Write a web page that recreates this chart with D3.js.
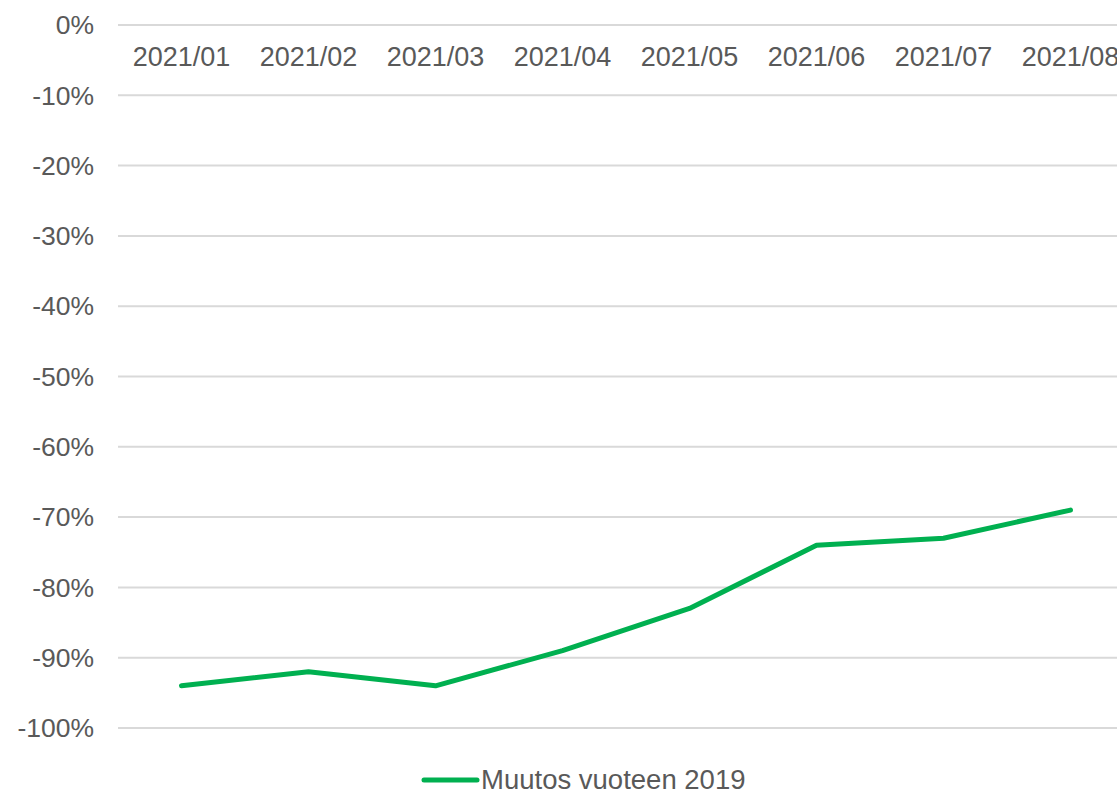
<!DOCTYPE html>
<html>
<head>
<meta charset="utf-8">
<script src="https://cdn.jsdelivr.net/npm/d3@7"></script>
<style>
  body { margin: 0; background: #fff; overflow: hidden; }
  text { font-family: "Liberation Sans", Arial, sans-serif; fill: #595959; }
</style>
</head>
<body>
<div id="chart"></div>
<script>
const months = ["2021/01", "2021/02", "2021/03", "2021/04", "2021/05", "2021/06", "2021/07", "2021/08"];
const change = [-94, -92, -94, -89, -83, -74, -73, -69];
const yTicks = [0, -10, -20, -30, -40, -50, -60, -70, -80, -90, -100];
const seriesName = "Muutos vuoteen 2019";

const width = 1117,
  height = 792;
const plotLeft = 118,
  plotRight = 1134,
  plotTop = 25,
  plotBottom = 728;

const svg = d3
  .select("#chart")
  .append("svg")
  .attr("width", width)
  .attr("height", height);

const x = d3.scaleBand().domain(months).range([plotLeft, plotRight]);
const y = d3.scaleLinear().domain([-100, 0]).range([plotBottom, plotTop]);

// gridlines
svg
  .selectAll(".grid")
  .data(yTicks)
  .enter()
  .append("line")
  .attr("x1", plotLeft)
  .attr("x2", plotRight)
  .attr("y1", d => y(d))
  .attr("y2", d => y(d))
  .attr("stroke", "#d9d9d9")
  .attr("stroke-width", 2);

// y labels
svg
  .selectAll(".ylab")
  .data(yTicks)
  .enter()
  .append("text")
  .attr("x", 94)
  .attr("y", d => y(d))
  .attr("dy", "0.35em")
  .attr("text-anchor", "end")
  .attr("font-size", "26.5px")
  .text(d => d + "%");

// x labels (sit just under the 0% line)
svg
  .selectAll(".xlab")
  .data(months)
  .enter()
  .append("text")
  .attr("x", d => x(d) + x.bandwidth() / 2)
  .attr("y", 66)
  .attr("text-anchor", "middle")
  .attr("font-size", "27px")
  .text(d => d);

const line = d3
  .line()
  .x((d, i) => x(months[i]) + x.bandwidth() / 2)
  .y(d => y(d));

svg
  .append("path")
  .datum(change)
  .attr("d", line)
  .attr("fill", "none")
  .attr("stroke", "#00b050")
  .attr("stroke-width", 5)
  .attr("stroke-linejoin", "round")
  .attr("stroke-linecap", "round");

// legend
svg
  .append("line")
  .attr("x1", 424)
  .attr("x2", 477)
  .attr("y1", 780)
  .attr("y2", 780)
  .attr("stroke", "#00b050")
  .attr("stroke-width", 5)
  .attr("stroke-linecap", "round");

svg
  .append("text")
  .attr("x", 481)
  .attr("y", 789)
  .attr("font-size", "27.5px")
  .text(seriesName);
</script>
</body>
</html>
